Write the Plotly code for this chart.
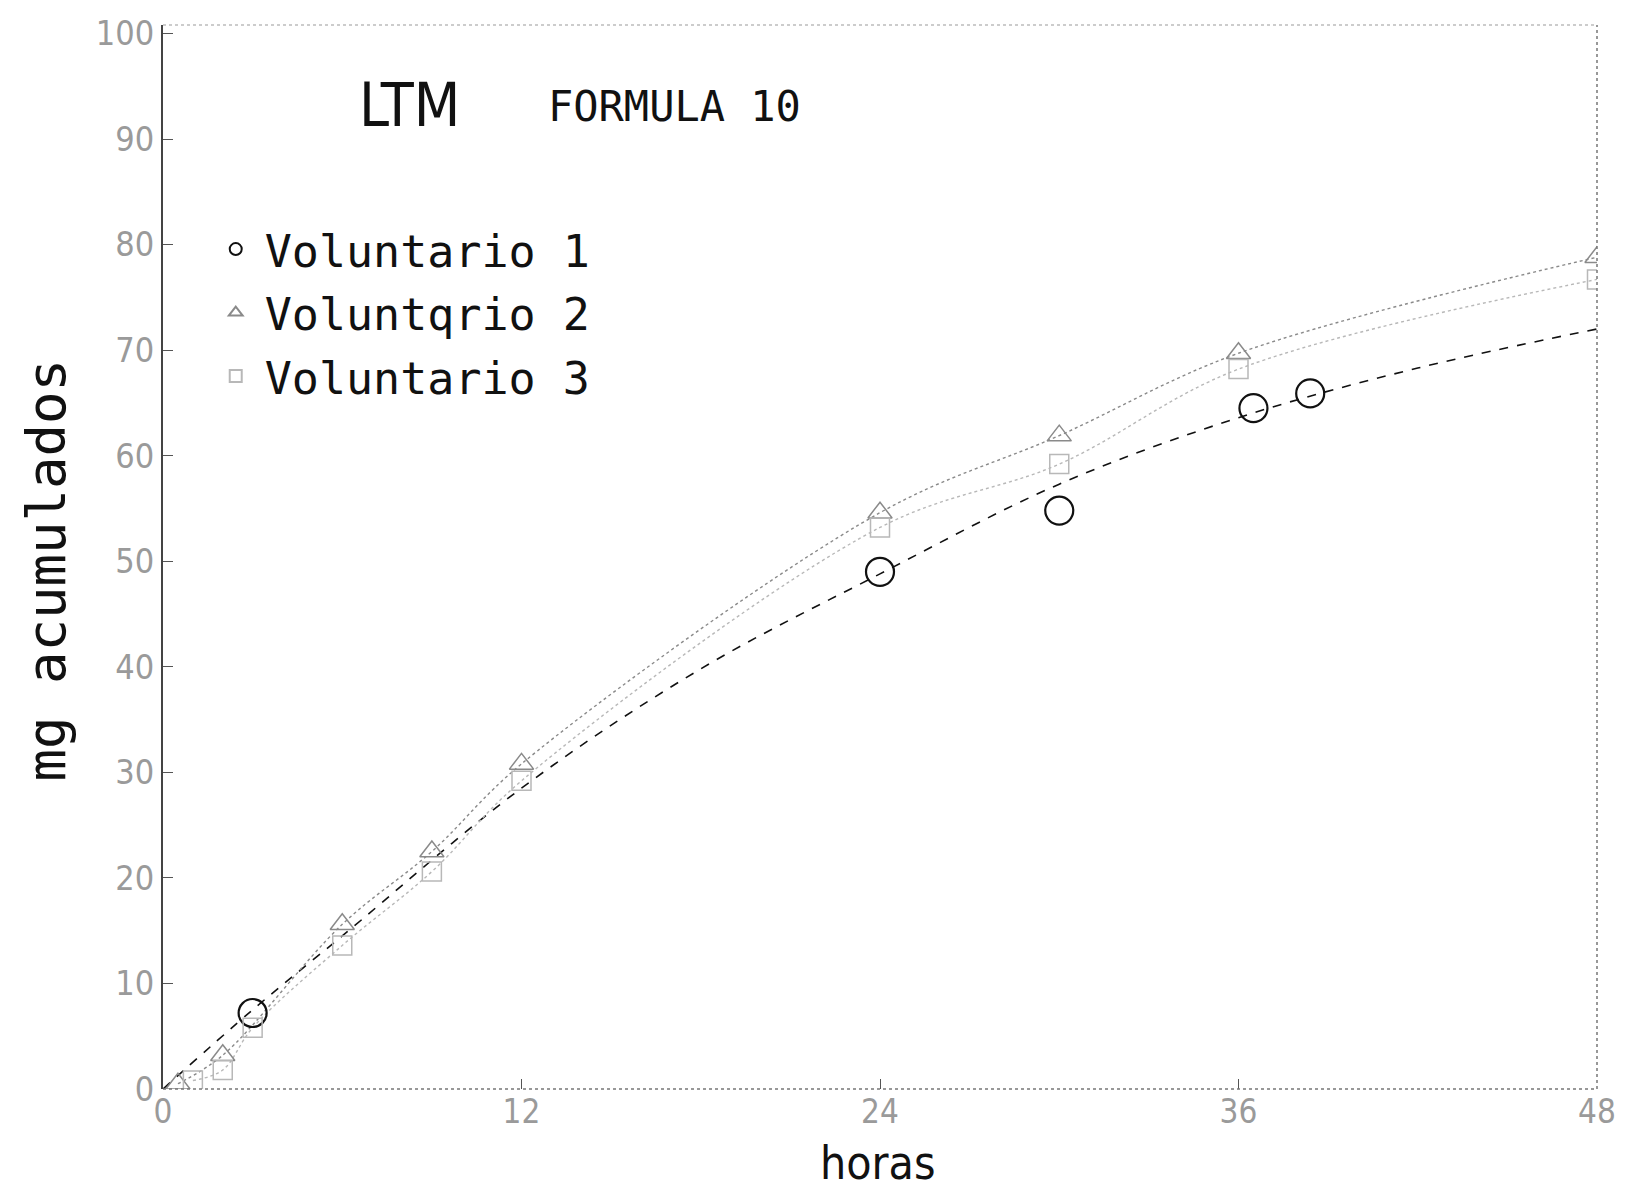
import plotly.graph_objects as go

v1_hours = [3, 24, 30, 36.5, 38.4]
v1_mg = [7.2, 49.0, 54.8, 64.5, 65.9]
v1_curve_hours = [0, 3, 6, 12, 18, 24, 30, 36, 42, 48]
v1_curve_mg = [0, 7.5, 14.5, 28.5, 39.8, 48.8, 57.3, 63.6, 68.3, 72.0]

v2_hours = [0.5, 2, 6, 9, 12, 24, 30, 36, 48]
v2_mg = [0.5, 3.2, 15.6, 22.5, 30.8, 54.6, 61.9, 69.7, 78.8]

v3_hours = [1, 2, 3, 6, 9, 12, 24, 30, 36, 48]
v3_mg = [0.8, 1.8, 5.8, 13.6, 20.6, 29.2, 53.2, 59.2, 68.2, 76.7]

x_ticks = [0, 12, 24, 36, 48]
y_ticks = [0, 10, 20, 30, 40, 50, 60, 70, 80, 90, 100]

series_names = ["Voluntario 1", "Voluntqrio 2", "Voluntario 3"]

c1, c2, c3 = "#111111", "#8a8a8a", "#b8b8b8"
label_font = "Liberation Sans Narrow, DejaVu Sans Condensed, Liberation Sans, sans-serif"
text_font = "DejaVu Sans Mono, Liberation Mono, monospace"

fig = go.Figure()

# Curves
fig.add_trace(go.Scatter(x=v1_curve_hours, y=v1_curve_mg, mode="lines",
                         line=dict(color=c1, width=1.6, dash="dash", shape="spline"),
                         showlegend=False, hoverinfo="skip"))
fig.add_trace(go.Scatter(x=v2_hours, y=v2_mg, mode="lines",
                         line=dict(color=c2, width=1.4, dash="dot", shape="spline"),
                         showlegend=False, hoverinfo="skip"))
fig.add_trace(go.Scatter(x=v3_hours, y=v3_mg, mode="lines",
                         line=dict(color=c3, width=1.4, dash="dot", shape="spline"),
                         showlegend=False, hoverinfo="skip"))

# Markers
fig.add_trace(go.Scatter(x=v1_hours, y=v1_mg, mode="markers", name=series_names[0],
                         marker=dict(symbol="circle-open", size=28, color=c1, line=dict(width=2.2, color=c1)),
                         legendgroup="a"))
fig.add_trace(go.Scatter(x=v2_hours, y=v2_mg, mode="markers", name=series_names[1],
                         marker=dict(symbol="triangle-up-open", size=21, color=c2, line=dict(width=1.5, color=c2)),
                         legendgroup="b"))
fig.add_trace(go.Scatter(x=v3_hours, y=v3_mg, mode="markers", name=series_names[2],
                         marker=dict(symbol="square-open", size=19, color=c3, line=dict(width=1.5, color=c3)),
                         legendgroup="c"))

fig.update_layout(
    width=1611, height=1183,
    paper_bgcolor="white", plot_bgcolor="white",
    margin=dict(l=155, r=22, t=17, b=102),
    showlegend=True,
    legend=dict(x=0.0305, y=0.823, xanchor="left", yanchor="top",
                font=dict(family=text_font, size=45, color="#111111"),
                bgcolor="rgba(0,0,0,0)", tracegroupgap=2, itemsizing="constant",
                itemwidth=48),
    xaxis=dict(range=[0, 48], tickvals=x_ticks, ticktext=[str(v) for v in x_ticks],
               showgrid=False, zeroline=False, showline=False, automargin=False,
               ticks="inside", ticklen=10, tickcolor="#555555",
               ticklabeloverflow="allow",
               tickfont=dict(family=label_font, size=33, color="#9a9a9a")),
    yaxis=dict(range=[0, 100.8], tickvals=y_ticks, ticktext=[str(v) for v in y_ticks],
               showgrid=False, zeroline=False, showline=True, linecolor="#444444", linewidth=2,
               automargin=False,
               ticks="inside", ticklen=10, tickcolor="#555555",
               ticklabeloverflow="allow",
               tickfont=dict(family=label_font, size=34, color="#9a9a9a")),
    shapes=[
        dict(type="line", xref="paper", yref="paper", x0=0, x1=1, y0=0, y1=0,
             line=dict(color="#777777", width=1.5, dash="dot")),
        dict(type="line", xref="paper", yref="paper", x0=0, x1=1, y0=1, y1=1,
             line=dict(color="#999999", width=1.2, dash="dot")),
        dict(type="line", xref="paper", yref="paper", x0=1, x1=1, y0=0, y1=1,
             line=dict(color="#777777", width=1.5, dash="dot")),
    ],
    annotations=[
        dict(text="LTM", xref="paper", yref="paper", x=0.172, y=0.925,
             xanchor="center", yanchor="middle",
             showarrow=False, font=dict(family=label_font, size=60, color="#111111")),
        dict(text="FORMULA 10", xref="paper", yref="paper", x=0.357, y=0.923,
             xanchor="center", yanchor="middle",
             showarrow=False, font=dict(family=text_font, size=42, color="#111111")),
        dict(text="mg acumulados", xref="paper", yref="paper", x=-0.081, y=0.488,
             xanchor="center", yanchor="middle",
             textangle=-90, showarrow=False,
             font=dict(family=text_font, size=54, color="#111111")),
        dict(text="horas", xref="paper", yref="paper", x=0.498, y=-0.0697,
             xanchor="center", yanchor="middle",
             showarrow=False, font=dict(family=label_font, size=46, color="#111111")),
    ],
)

fig.write_html("out.html")
